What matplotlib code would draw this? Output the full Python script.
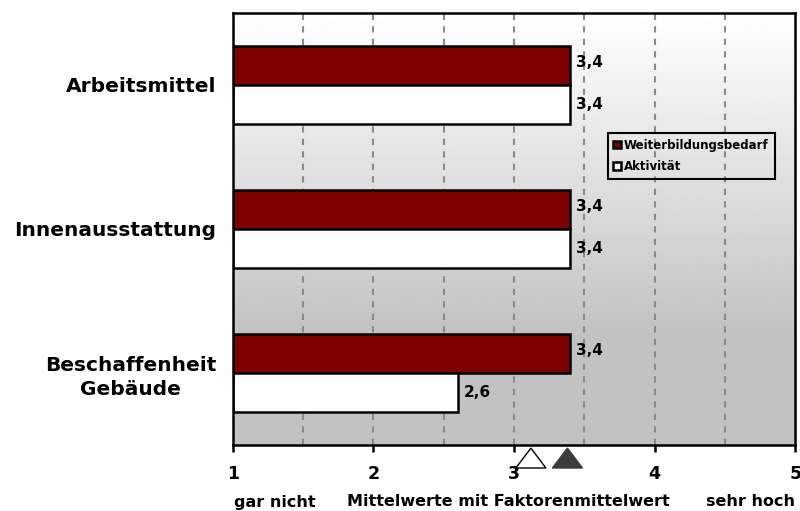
import matplotlib
matplotlib.use("Agg")
import matplotlib.pyplot as plt
import numpy as np
from matplotlib.patches import Polygon

plt.rcParams['font.family'] = ['DejaVu Sans']
plt.rcParams['font.weight'] = 'bold'

categories = ["Arbeitsmittel", "Innenausstattung", "Beschaffenheit\nGebäude"]
bedarf = [3.4, 3.4, 3.4]
aktivitaet = [3.4, 3.4, 2.6]
factor_means = {"Aktivität": 3.12, "Weiterbildungsbedarf": 3.38}
xticks = [1, 2, 3, 4, 5]
scale_labels = ["gar nicht", "Mittelwerte mit Faktorenmittelwert", "sehr hoch"]

fig = plt.figure(figsize=(8, 5.11), dpi=100)
ax = fig.add_axes([0.291, 0.129, 0.703, 0.846])

ax.set_xlim(1, 5)
ax.set_ylim(-0.5, 2.5)

# gradient background: white at top, gray towards bottom
n = 256
t = np.linspace(0, 1, n)
g = np.clip(t / 0.75, 0, 1)
shade = 1 - g * (1 - 0.76)
img = np.repeat(shade[:, None], 2, axis=1)
ax.imshow(img, cmap='gray', vmin=0, vmax=1, aspect='auto',
          extent=[1, 5, -0.5, 2.5], origin='upper', zorder=0)

for xv in [1.5, 2, 2.5, 3, 3.5, 4, 4.5]:
    ax.axvline(xv, color='#8a8a8a', linestyle=(0, (3, 3)), linewidth=1.5, zorder=1)

pos = np.arange(len(categories))[::-1]
h = 0.27
b1 = ax.barh(pos + h / 2, np.array(bedarf) - 1, left=1, height=h,
             color='#7f0000', edgecolor='black', linewidth=1.8, zorder=3,
             label="Weiterbildungsbedarf")
b2 = ax.barh(pos - h / 2, np.array(aktivitaet) - 1, left=1, height=h,
             color='white', edgecolor='black', linewidth=1.8, zorder=3,
             label="Aktivität")

for p, v in zip(pos, bedarf):
    ax.text(v + 0.04, p + h / 2 + 0.02, f"{v:.1f}".replace('.', ','),
            ha='left', va='center', fontsize=11, fontweight='bold', zorder=4)
for p, v in zip(pos, aktivitaet):
    ax.text(v + 0.04, p - h / 2 + 0.0, f"{v:.1f}".replace('.', ','),
            ha='left', va='center', fontsize=11, fontweight='bold', zorder=4)

ax.set_yticks(pos)
ax.set_yticklabels(categories, fontsize=14.5, fontweight='bold', ha='right',
                   multialignment='center', linespacing=1.35)
ax.tick_params(axis='y', length=0, pad=12)

ax.set_xticks(xticks)
ax.set_xticklabels([str(x) for x in xticks], fontsize=12.5, fontweight='bold')
ax.tick_params(axis='x', direction='out', length=5, width=1.8, pad=9)

for s in ax.spines.values():
    s.set_linewidth(1.8)
    s.set_zorder(5)

# factor mean triangles below the axis
tw = 0.107
for (name, m), fc in zip(factor_means.items(), ['white', '#3c3c3c']):
    tri = Polygon([(m - tw, -0.053), (m + tw, -0.053), (m, -0.007)],
                  closed=True, facecolor=fc, edgecolor='black' if fc == 'white' else fc,
                  linewidth=1, transform=ax.get_xaxis_transform(), clip_on=False, zorder=6)
    ax.add_patch(tri)

fig.text(275 / 800, 1 - 502 / 511, scale_labels[0], ha='center', va='center', fontsize=11.5, fontweight='bold')
fig.text(508 / 800, 1 - 502 / 511, scale_labels[1], ha='center', va='center', fontsize=11.5, fontweight='bold')
fig.text(750 / 800, 1 - 502 / 511, scale_labels[2], ha='center', va='center', fontsize=11.5, fontweight='bold')

leg = ax.legend(handles=[b1, b2], loc='upper left', bbox_to_anchor=(0.66, 0.731),
                fontsize=8.5, frameon=True, fancybox=False, handlelength=0.6,
                handleheight=0.6, handletextpad=0.3, borderpad=0.5, labelspacing=0.75,
                borderaxespad=0.3, edgecolor='black', framealpha=1)
leg.get_frame().set_linewidth(1.5)
leg.get_frame().set_facecolor('none')
for t in leg.get_texts():
    t.set_fontweight('bold')

fig.savefig("out.png", dpi=100)
